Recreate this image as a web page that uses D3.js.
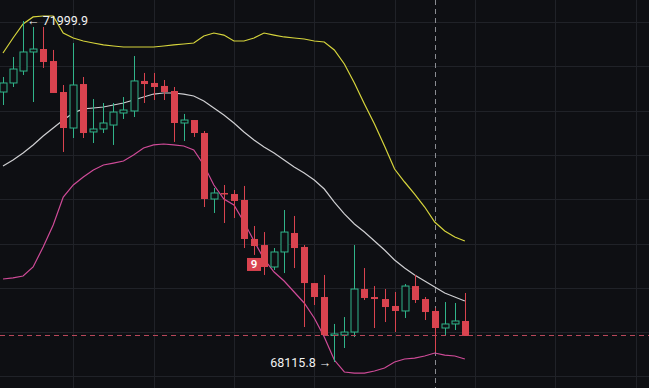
<!DOCTYPE html>
<html lang="en">
<head>
<meta charset="UTF-8">
<title>Candles</title>
<style>
  * { margin: 0; padding: 0; box-sizing: border-box; }
  body { background: #0e0f13; overflow: hidden; font-family: 'Roboto', 'Noto Sans', sans-serif; }
  svg { display: block; }
</style>
</head>
<body>
<svg width="649" height="388"></svg>
<script src="https://cdn.jsdelivr.net/npm/d3@7/dist/d3.min.js"></script>
<script>
// OHLC per candle
const opens  = [71191,71294,71430,71647,71681,71544,71191,70781,71282,70736,70770,70815,70952,70975,71317,71294,71260,71203,70838,70872,70724,69972,70041,70029,69961,69517,69448,69198,69369,69585,69426,69015,68856,68423,68423,68457,68947,68856,68833,68754,68697,68981,68833,68697,68503,68549,68583];
const highs  = [71362,71590,71999.9,71932,71932,71670,71271,71749,71362,71111,71066,71066,71134,71601,71408,71408,71328,71248,70941,70872,70747,70098,70132,70075,70121,69665,69596,69414,69847,69779,69448,69015,69107,68549,68628,69448,69186,68981,68947,68913,69004,69107,68856,68731,68799,68788,68902];
const lows   = [71043,71248,71385,71077,71465,71180,70508,70667,70667,70610,70724,70588,70884,70906,71066,71100,71100,70622,70633,70679,69881,69813,69699,69756,69414,69335,69107,69164,69129,69186,68514,68765,68423,68115.8,68275,68400,68822,68503,68571,68457,68617,68788,68594,68230,68423,68480,68412];
const closes = [71294,71453,71647,71681,71533,71180,70781,71271,70724,70770,70838,70963,70986,71317,71282,71248,71191,70838,70872,70724,69972,70041,70029,69950,69517,69437,69198,69369,69596,69414,69015,68856,68423,68435,68457,68947,68845,68833,68742,68697,68981,68822,68685,68503,68549,68583,68412];

// Bollinger bands
const upperBand = [71635,71806,71966,72046,72057,72057,71863,71806,71772,71749,71727,71715,71704,71704,71704,71704,71715,71727,71738,71749,71829,71863,71840,71772,71772,71806,71863,71840,71818,71806,71795,71772,71761,71670,71510,71294,71054,70827,70576,70314,70166,70029,69881,69710,69608,69540,69494];
const midBand   = [70348,70417,70496,70588,70690,70781,70872,70952,70998,71009,71020,71043,71066,71100,71134,71168,71180,71180,71168,71146,71089,71009,70929,70838,70736,70644,70565,70496,70417,70337,70269,70189,70086,69938,69802,69688,69596,69494,69391,69278,69186,69107,69038,68970,68902,68856,68810];
const lowerBand = [69061,69073,69095,69198,69426,69676,69995,70132,70223,70303,70360,70382,70405,70474,70553,70588,70599,70588,70576,70531,70360,70132,69972,69904,69710,69494,69289,69141,69038,68913,68788,68617,68400,68138,68002,67990,67990,68013,68047,68116,68150,68161,68184,68218,68195,68184,68150];

// horizontal grid price levels and vertical grid candle slots
const gridPrices = [71989,71484,70979,70475,69970,69465,68961,68456,67951];
const gridSlots = [7,15,23,31,39,47,55,63];

const maxLabel = "71999.9", minLabel = "68115.8";
const crossSlot = 43;
const tdSlot = 25, tdText = "9";

const W = 649, H = 388;
const svg = d3.select('svg');

const x = d3.scaleLinear().domain([0, 64]).range([3, 3 + 64 * 10.04]);
const y = d3.scaleLinear().domain([68115.8, 71999.9]).range([362, 21]);

const colUp = '#30b48a', colDown = '#d9434f';

// grid
svg.append('g').selectAll('line.h').data(gridPrices).enter().append('line')
  .attr('x1', 0).attr('x2', W)
  .attr('y1', d => Math.round(y(d)) + 0.5).attr('y2', d => Math.round(y(d)) + 0.5)
  .attr('stroke', '#202228').attr('stroke-width', 1);
svg.append('g').selectAll('line.v').data(gridSlots).enter().append('line')
  .attr('y1', 0).attr('y2', H)
  .attr('x1', d => Math.round(x(d)) + 0.5).attr('x2', d => Math.round(x(d)) + 0.5)
  .attr('stroke', '#202228').attr('stroke-width', 1);

// crosshair vertical
svg.append('line')
  .attr('x1', Math.round(x(crossSlot)) + 0.5).attr('x2', Math.round(x(crossSlot)) + 0.5)
  .attr('y1', 0).attr('y2', H)
  .attr('stroke', '#8a8c92').attr('stroke-width', 1).attr('stroke-dasharray', '5,4');

// bands
const idx = d3.range(upperBand.length);
const band = arr => d3.line().x(i => x(i)).y(i => y(arr[i]));
svg.append('path').attr('d', band(upperBand)(idx)).attr('fill', 'none').attr('stroke', '#d6d43c').attr('stroke-width', 1.2);
svg.append('path').attr('d', band(midBand)(idx)).attr('fill', 'none').attr('stroke', '#cfcfd2').attr('stroke-width', 1.2);
svg.append('path').attr('d', band(lowerBand)(idx)).attr('fill', 'none').attr('stroke', '#cf4b98').attr('stroke-width', 1.2);

// candles
const candles = idx.map(i => ({ i, o: opens[i], h: highs[i], l: lows[i], c: closes[i] }));
const cg = svg.append('g').selectAll('g').data(candles).enter().append('g');
cg.append('line')
  .attr('x1', d => Math.round(x(d.i)) + 0.5).attr('x2', d => Math.round(x(d.i)) + 0.5)
  .attr('y1', d => y(d.h)).attr('y2', d => y(d.l))
  .attr('stroke', d => d.c >= d.o ? colUp : colDown).attr('stroke-width', 1);
cg.append('rect')
  .attr('x', d => Math.round(x(d.i)) - 3)
  .attr('width', 7)
  .attr('y', d => y(Math.max(d.o, d.c)))
  .attr('height', d => Math.max(1.5, Math.abs(y(d.o) - y(d.c))))
  .attr('fill', d => d.c >= d.o ? '#0e0f13' : colDown)
  .attr('stroke', d => d.c >= d.o ? colUp : colDown)
  .attr('stroke-width', d => d.c >= d.o ? 1 : 0);

// last price line
const last = closes[closes.length - 1];
svg.append('line')
  .attr('x1', 0).attr('x2', W)
  .attr('y1', Math.round(y(last)) - 0.5).attr('y2', Math.round(y(last)) - 0.5)
  .attr('stroke', '#b8475a').attr('stroke-width', 1).attr('stroke-dasharray', '5,4');

// TD "9" tag
const td = svg.append('g');
const tdx = x(tdSlot), tdy = y(lows[tdSlot]) + 3;
td.append('rect').attr('x', tdx - 7).attr('y', tdy).attr('width', 14).attr('height', 13).attr('fill', colDown);
td.append('text').attr('x', tdx).attr('y', tdy + 10.5).attr('text-anchor', 'middle')
  .attr('fill', '#ffffff').attr('font-size', 11.5).attr('font-weight', 600).text(tdText);

// high / low labels
const hiI = highs.indexOf(d3.max(highs));
const loI = lows.indexOf(d3.min(lows));
svg.append('text').attr('x', x(hiI) + 4).attr('y', y(highs[hiI]) + 4)
  .attr('fill', '#f2f2f2').attr('font-size', 12.5).text('\u2190 ' + maxLabel);
svg.append('text').attr('x', x(loI) - 3).attr('y', y(lows[loI]) + 5).attr('text-anchor', 'end')
  .attr('fill', '#f2f2f2').attr('font-size', 12.5).text(minLabel + ' \u2192');
</script>
</body>
</html>
